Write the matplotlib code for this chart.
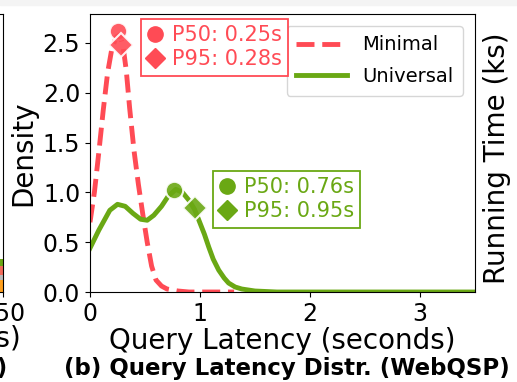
import numpy as np
import matplotlib
matplotlib.use("Agg")
import matplotlib.pyplot as plt
from matplotlib.lines import Line2D
from matplotlib.patches import Rectangle

# Density curves
minimal_x = [0.0, 0.04, 0.08, 0.12, 0.16, 0.20, 0.24, 0.27, 0.30, 0.33, 0.36,
             0.40, 0.44, 0.48, 0.52, 0.56, 0.60, 0.65, 0.70, 0.80, 0.90, 1.0,
             1.1, 1.2, 1.31]
minimal_y = [0.70, 1.00, 1.40, 1.82, 2.20, 2.45, 2.56, 2.58, 2.47, 2.22, 1.85,
             1.42, 1.08, 0.78, 0.50, 0.26, 0.12, 0.06, 0.03, 0.01, 0.0, 0.0,
             0.0, 0.0, 0.0]

universal_x = [0.0, 0.08, 0.18, 0.25, 0.32, 0.39, 0.46, 0.52, 0.58, 0.65, 0.71,
               0.78, 0.84, 0.90, 0.95, 0.99, 1.04, 1.08, 1.12, 1.17, 1.22,
               1.26, 1.32, 1.38, 1.5, 1.7, 2.0, 2.5, 3.0, 3.5]
universal_y = [0.44, 0.62, 0.82, 0.88, 0.86, 0.79, 0.73, 0.72, 0.77, 0.86, 0.96,
               1.03, 1.00, 0.92, 0.83, 0.72, 0.58, 0.45, 0.33, 0.22, 0.14,
               0.09, 0.05, 0.03, 0.01, 0.0, 0.0, 0.0, 0.0, 0.0]

# Percentile markers (x, density)
minimal_p50 = (0.25, 2.62)
minimal_p95 = (0.28, 2.48)
universal_p50 = (0.76, 1.02)
universal_p95 = (0.95, 0.84)

red = "#ff4b55"
green = "#6aa814"

W, H = 517, 382
fig = plt.figure(figsize=(W / 100, H / 100), dpi=100)

# light strip at the very top of the screenshot
fig.patches.append(Rectangle((0, 1 - 5 / H), 1, 5 / H, transform=fig.transFigure,
                             color="#f4f4f4", zorder=0))

# partial neighbouring panel on the left
ax0 = fig.add_axes([(3 - 300) / W, (H - 292) / H, 300 / W, 278 / H])
ax0.bar([147], [0.6], width=6, color="#ff9f1c")
ax0.bar([147], [0.25], width=6, bottom=[0.6], color="#bbbbbb")
ax0.bar([147], [0.45], width=6, bottom=[0.85], color="#f26b5b")
ax0.bar([147], [0.35], width=6, bottom=[1.3], color=green)
ax0.set_xlim(0, 150)
ax0.set_ylim(0, 14)
ax0.set_xticks([0, 50, 100, 150])
ax0.tick_params(labelsize=17)
fig.text(21 / W, 1 - 338 / H, "Time (s)", fontsize=20, ha="right", va="center")
fig.text(7 / W, 1 - 368 / H, "(a) Running Time)", fontsize=16.5, fontweight="bold",
         ha="right", va="center")

# main panel
ax = fig.add_axes([90 / W, (H - 292) / H, 385 / W, 278 / H])
ax.plot(minimal_x, minimal_y, color=red, lw=3.5, ls="--", label="Minimal")
ax.plot(universal_x, universal_y, color=green, lw=3.5, label="Universal")

mk = dict(ms=12.5, mec="white", mew=1.5, alpha=0.9, ls="none", zorder=5)
ax.plot(*minimal_p50, marker="o", color=red, **mk)
ax.plot(*minimal_p95, marker="D", color=red, **mk)
ax.plot(*universal_p50, marker="o", color=green, **mk)
ax.plot(*universal_p95, marker="D", color=green, **mk)

ax.set_xlim(0, 3.5)
ax.set_ylim(0, 2.79)
ax.set_xticks([0, 1, 2, 3])
ax.set_yticks([0.0, 0.5, 1.0, 1.5, 2.0, 2.5])
ax.tick_params(labelsize=17)
ax.set_xlabel("Query Latency (seconds)", fontsize=20, labelpad=1)
ax.set_ylabel("Density", fontsize=20, labelpad=4)

leg = ax.legend(loc="upper right", fontsize=14, handlelength=2.6,
                borderaxespad=0.6, labelspacing=0.65, borderpad=0.5)
ax.add_artist(leg)


def pct_box(color, p50, p95, anchor):
    hs = [Line2D([], [], marker="o", color=color, ls="none", ms=11),
          Line2D([], [], marker="D", color=color, ls="none", ms=10)]
    lg = ax.legend(hs, [f"P50: {p50[0]:.2f}s", f"P95: {p95[0]:.2f}s"],
                   loc="upper left", bbox_to_anchor=anchor, borderaxespad=0,
                   fontsize=15, fancybox=False, edgecolor=color, labelcolor=color,
                   framealpha=1, handlelength=0.8, handletextpad=0.4,
                   borderpad=0.3, labelspacing=0.2)
    lg.get_frame().set_linewidth(1.3)
    return lg


ax.add_artist(pct_box(red, minimal_p50, minimal_p95, (0.132, 0.982)))
pct_box(green, universal_p50, universal_p95, (0.319, 0.435))

fig.text(287 / W, 1 - 368 / H, "(b) Query Latency Distr. (WebQSP)", fontsize=16.5,
         fontweight="bold", ha="center", va="center")

fig.text(497 / W, 1 - 158 / H, "Running Time (ks)", fontsize=20, rotation=90,
         ha="center", va="center")

fig.savefig("out.png", dpi=100)
